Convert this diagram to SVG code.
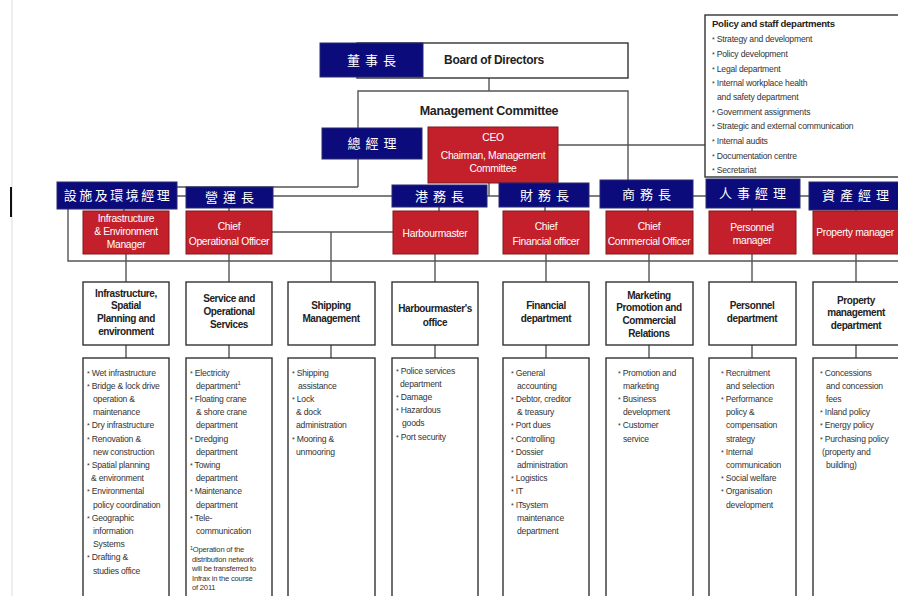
<svg xmlns="http://www.w3.org/2000/svg" width="898" height="596" viewBox="0 0 898 596">
<style>
.blue{fill:#0b0b7c;stroke:#2a2a70;stroke-width:1}
.red{fill:#c3202b;stroke:#7e1a1a;stroke-width:1}
.box{fill:#fff;stroke:#333;stroke-width:1.4}
.ln{stroke:#555;stroke-width:1.4;fill:none}
.cjk{font-family:"Noto Sans CJK TC","Noto Sans CJK SC",sans-serif;font-weight:normal;font-size:13px;fill:#fff;text-anchor:middle;letter-spacing:5px}
.cjk7{font-family:"Noto Sans CJK TC","Noto Sans CJK SC",sans-serif;font-weight:normal;font-size:13px;fill:#fff;text-anchor:middle;letter-spacing:2.5px}
.rt{font-family:"Liberation Sans",Arial,sans-serif;font-size:10.3px;fill:#fff;text-anchor:middle;letter-spacing:-0.3px}
.dt{font-family:"Liberation Sans",Arial,sans-serif;font-size:10px;font-weight:bold;fill:#222;text-anchor:middle;letter-spacing:-0.4px}
.ti{font-family:"Liberation Sans",Arial,sans-serif;font-weight:bold;fill:#222;text-anchor:middle;letter-spacing:-0.3px}
.pt{font-family:"Liberation Sans",Arial,sans-serif;font-weight:bold;font-size:9.6px;fill:#222;letter-spacing:-0.3px}
.li{font-family:"Liberation Sans",Arial,sans-serif;font-size:8.6px;fill:#333;letter-spacing:-0.2px}
.fn{font-family:"Liberation Sans",Arial,sans-serif;font-size:7.6px;fill:#333;letter-spacing:-0.2px}
.a{font-size:7px}
</style>
<line x1="12" y1="0" x2="12" y2="596" stroke="#ddd" stroke-width="1"/>
<line x1="11" y1="187" x2="11" y2="217" stroke="#111" stroke-width="2"/>
<g id="connectors">
<path class="ln" d="M489 78V91M358 187V91H628V180M358 187H177M68 209V261H898M177 196H898M489 183V196M558 145H705"/>
<path class="ln" d="M124 209V211M229 208V211M439 207V211M545 207V211M648 208V211M752 208V211M856 210V211"/>
<path class="ln" d="M126 254V282M229 254V282M435 254V282M546 254V282M649 254V282M752 254V282M856 254V282M272 232H393M331 232V282"/>
<path class="ln" d="M126 345V358M229 345V358M331 345V358M435 345V358M546 345V358M649 345V358M752 345V358M856 345V358"/>
</g>
<g id="board">
<rect class="box" x="357" y="43" width="271" height="35"/>
<rect class="blue" x="320" y="43" width="103" height="34"/>
<text class="cjk" x="374" y="65">董事長</text>
<text class="ti" x="494" y="64" font-size="12">Board of Directors</text>
</g>
<g id="mgmt">
<text class="ti" x="489" y="115" font-size="12.5">Management Committee</text>
</g>
<g id="gm">
<rect class="blue" x="322" y="128" width="100" height="31"/>
<text class="cjk" x="374.5" y="148">總經理</text>
</g>
<g id="ceo">
<rect class="red" x="428" y="127" width="130" height="56"/>
<text class="rt" font-size="10.5"><tspan x="493" y="141">CEO</tspan><tspan x="493" y="159">Chairman, Management</tspan><tspan x="493" y="172">Committee</tspan></text>
</g>
<g id="policy">
<rect class="box" x="705" y="15" width="200" height="162"/>
<text class="pt" x="712" y="27">Policy and staff departments</text>
<text class="li">
<tspan x="712" y="42"><tspan class="a">*</tspan> Strategy and development</tspan>
<tspan x="712" y="57"><tspan class="a">*</tspan> Policy development</tspan>
<tspan x="712" y="72"><tspan class="a">*</tspan> Legal department</tspan>
<tspan x="712" y="86"><tspan class="a">*</tspan> Internal workplace health</tspan>
<tspan x="717" y="100">and safety department</tspan>
<tspan x="712" y="115"><tspan class="a">*</tspan> Government assignments</tspan>
<tspan x="712" y="129"><tspan class="a">*</tspan> Strategic and external communication</tspan>
<tspan x="712" y="144"><tspan class="a">*</tspan> Internal audits</tspan>
<tspan x="712" y="159"><tspan class="a">*</tspan> Documentation centre</tspan>
<tspan x="712" y="173"><tspan class="a">*</tspan> Secretariat</tspan>
</text>
</g>
<g id="col1">
<rect class="blue" x="57" y="182" width="120" height="27"/>
<text class="cjk7" x="118" y="200">設施及環境經理</text>
<rect class="red" x="83" y="211" width="86" height="43"/>
<text class="rt"><tspan x="126" y="222">Infrastructure</tspan><tspan x="126" y="235">&amp; Environment</tspan><tspan x="126" y="248">Manager</tspan></text>
<rect class="box" x="83" y="282" width="86" height="63"/>
<text class="dt"><tspan x="126" y="297">Infrastructure,</tspan><tspan x="126" y="309">Spatial</tspan><tspan x="126" y="322">Planning and</tspan><tspan x="126" y="335">environment</tspan></text>
<rect class="box" x="83" y="358" width="86" height="245"/>
<text class="li">
<tspan x="87" y="375.5"><tspan class="a">*</tspan> Wet infrastructure</tspan>
<tspan x="87" y="388.7"><tspan class="a">*</tspan> Bridge &amp; lock drive</tspan>
<tspan x="93" y="401.9">operation &amp;</tspan>
<tspan x="93" y="415.1">maintenance</tspan>
<tspan x="87" y="428.3"><tspan class="a">*</tspan> Dry infrastructure</tspan>
<tspan x="87" y="441.5"><tspan class="a">*</tspan> Renovation &amp;</tspan>
<tspan x="93" y="454.7">new construction</tspan>
<tspan x="87" y="467.9"><tspan class="a">*</tspan> Spatial planning</tspan>
<tspan x="91" y="481.1">&amp; environment</tspan>
<tspan x="87" y="494.3"><tspan class="a">*</tspan> Environmental</tspan>
<tspan x="93" y="507.5">policy coordination</tspan>
<tspan x="87" y="520.7"><tspan class="a">*</tspan> Geographic</tspan>
<tspan x="93" y="533.9">information</tspan>
<tspan x="93" y="547.1">Systems</tspan>
<tspan x="87" y="560.3"><tspan class="a">*</tspan> Drafting &amp;</tspan>
<tspan x="93" y="573.5">studies office</tspan>
</text>
</g>
<g id="col2">
<rect class="blue" x="186" y="187" width="87" height="21"/>
<text class="cjk" x="232" y="202">營運長</text>
<rect class="red" x="186" y="211" width="86" height="43"/>
<text class="rt"><tspan x="229" y="230">Chief</tspan><tspan x="229" y="245">Operational Officer</tspan></text>
<rect class="box" x="186" y="282" width="86" height="63"/>
<text class="dt"><tspan x="229" y="302">Service and</tspan><tspan x="229" y="315">Operational</tspan><tspan x="229" y="328">Services</tspan></text>
<rect class="box" x="186" y="358" width="86" height="245"/>
<text class="li">
<tspan x="190" y="375.5"><tspan class="a">*</tspan> Electricity</tspan>
<tspan x="196" y="388.7">department<tspan font-size="6" dy="-4">1</tspan></tspan>
<tspan x="190" y="401.9"><tspan class="a">*</tspan> Floating crane</tspan>
<tspan x="196" y="415.1">&amp; shore crane</tspan>
<tspan x="196" y="428.3">department</tspan>
<tspan x="190" y="441.5"><tspan class="a">*</tspan> Dredging</tspan>
<tspan x="196" y="454.7">department</tspan>
<tspan x="190" y="467.9"><tspan class="a">*</tspan> Towing</tspan>
<tspan x="196" y="481.1">department</tspan>
<tspan x="190" y="494.3"><tspan class="a">*</tspan> Maintenance</tspan>
<tspan x="196" y="507.5">department</tspan>
<tspan x="190" y="520.7"><tspan class="a">*</tspan> Tele-</tspan>
<tspan x="196" y="533.9">communication</tspan>
</text>
<text class="fn">
<tspan x="190" y="552"><tspan font-size="5.5" dy="-2.5">1</tspan><tspan dy="2.5">Operation of the</tspan></tspan>
<tspan x="192" y="561.5">distribution network</tspan>
<tspan x="192" y="571">will be transferred to</tspan>
<tspan x="192" y="580.5">Infrax in the course</tspan>
<tspan x="192" y="590">of 2011</tspan>
</text>
</g>
<g id="col3">
<rect class="box" x="288" y="282" width="87" height="63"/>
<text class="dt"><tspan x="331" y="309">Shipping</tspan><tspan x="331" y="322">Management</tspan></text>
<rect class="box" x="288" y="358" width="87" height="245"/>
<text class="li">
<tspan x="292" y="375.5"><tspan class="a">*</tspan> Shipping</tspan>
<tspan x="298" y="388.7">assistance</tspan>
<tspan x="292" y="401.9"><tspan class="a">*</tspan> Lock</tspan>
<tspan x="296" y="415.1">&amp; dock</tspan>
<tspan x="296" y="428.3">administration</tspan>
<tspan x="292" y="441.5"><tspan class="a">*</tspan> Mooring &amp;</tspan>
<tspan x="296" y="454.7">unmooring</tspan>
</text>
</g>
<g id="col4">
<rect class="blue" x="392" y="185" width="95" height="22"/>
<text class="cjk" x="442" y="200.5">港務長</text>
<rect class="red" x="393" y="211" width="85" height="43"/>
<text class="rt"><tspan x="435" y="237">Harbourmaster</tspan></text>
<rect class="box" x="392" y="282" width="86" height="63"/>
<text class="dt"><tspan x="435" y="312">Harbourmaster's</tspan><tspan x="435" y="326">office</tspan></text>
<rect class="box" x="392" y="358" width="86" height="245"/>
<text class="li">
<tspan x="396" y="373.5"><tspan class="a">*</tspan> Police services</tspan>
<tspan x="400" y="386.7">department</tspan>
<tspan x="396" y="399.9"><tspan class="a">*</tspan> Damage</tspan>
<tspan x="396" y="413.1"><tspan class="a">*</tspan> Hazardous</tspan>
<tspan x="402" y="426.3">goods</tspan>
<tspan x="396" y="439.5"><tspan class="a">*</tspan> Port security</tspan>
</text>
</g>
<g id="col5">
<rect class="blue" x="499" y="183" width="90" height="24"/>
<text class="cjk" x="547" y="199.5">財務長</text>
<rect class="red" x="503" y="211" width="86" height="43"/>
<text class="rt"><tspan x="546" y="230">Chief</tspan><tspan x="546" y="245">Financial officer</tspan></text>
<rect class="box" x="503" y="282" width="86" height="63"/>
<text class="dt"><tspan x="546" y="309">Financial</tspan><tspan x="546" y="322">department</tspan></text>
<rect class="box" x="503" y="358" width="86" height="245"/>
<text class="li">
<tspan x="511" y="375.5"><tspan class="a">*</tspan> General</tspan>
<tspan x="517" y="388.7">accounting</tspan>
<tspan x="511" y="401.9"><tspan class="a">*</tspan> Debtor, creditor</tspan>
<tspan x="517" y="415.1">&amp; treasury</tspan>
<tspan x="511" y="428.3"><tspan class="a">*</tspan> Port dues</tspan>
<tspan x="511" y="441.5"><tspan class="a">*</tspan> Controlling</tspan>
<tspan x="511" y="454.7"><tspan class="a">*</tspan> Dossier</tspan>
<tspan x="517" y="467.9">administration</tspan>
<tspan x="511" y="481.1"><tspan class="a">*</tspan> Logistics</tspan>
<tspan x="511" y="494.3"><tspan class="a">*</tspan> IT</tspan>
<tspan x="511" y="507.5"><tspan class="a">*</tspan> ITsystem</tspan>
<tspan x="517" y="520.7">maintenance</tspan>
<tspan x="517" y="533.9">department</tspan>
</text>
</g>
<g id="col6">
<rect class="blue" x="600" y="180" width="93" height="28"/>
<text class="cjk" x="649" y="198.5">商務長</text>
<rect class="red" x="606" y="211" width="87" height="43"/>
<text class="rt"><tspan x="649" y="230">Chief</tspan><tspan x="649" y="245">Commercial Officer</tspan></text>
<rect class="box" x="606" y="282" width="87" height="63"/>
<text class="dt"><tspan x="649" y="299">Marketing</tspan><tspan x="649" y="311">Promotion and</tspan><tspan x="649" y="324">Commercial</tspan><tspan x="649" y="337">Relations</tspan></text>
<rect class="box" x="606" y="358" width="87" height="245"/>
<text class="li">
<tspan x="618" y="375.5"><tspan class="a">*</tspan> Promotion and</tspan>
<tspan x="623" y="388.7">marketing</tspan>
<tspan x="618" y="401.9"><tspan class="a">*</tspan> Business</tspan>
<tspan x="623" y="415.1">development</tspan>
<tspan x="618" y="428.3"><tspan class="a">*</tspan> Customer</tspan>
<tspan x="623" y="441.5">service</tspan>
</text>
</g>
<g id="col7">
<rect class="blue" x="706" y="179" width="94" height="29"/>
<text class="cjk" x="755" y="198">人事經理</text>
<rect class="red" x="709" y="211" width="87" height="43"/>
<text class="rt"><tspan x="752" y="231">Personnel</tspan><tspan x="752" y="244">manager</tspan></text>
<rect class="box" x="709" y="282" width="87" height="63"/>
<text class="dt"><tspan x="752" y="309">Personnel</tspan><tspan x="752" y="322">department</tspan></text>
<rect class="box" x="709" y="358" width="87" height="245"/>
<text class="li">
<tspan x="721" y="375.5"><tspan class="a">*</tspan> Recruitment</tspan>
<tspan x="726" y="388.7">and selection</tspan>
<tspan x="721" y="401.9"><tspan class="a">*</tspan> Performance</tspan>
<tspan x="726" y="415.1">policy &amp;</tspan>
<tspan x="726" y="428.3">compensation</tspan>
<tspan x="726" y="441.5">strategy</tspan>
<tspan x="721" y="454.7"><tspan class="a">*</tspan> Internal</tspan>
<tspan x="726" y="467.9">communication</tspan>
<tspan x="721" y="481.1"><tspan class="a">*</tspan> Social welfare</tspan>
<tspan x="721" y="494.3"><tspan class="a">*</tspan> Organisation</tspan>
<tspan x="726" y="507.5">development</tspan>
</text>
</g>
<g id="col8">
<rect class="blue" x="809" y="182" width="95" height="28"/>
<text class="cjk" x="858" y="200">資產經理</text>
<rect class="red" x="813" y="211" width="90" height="43"/>
<text class="rt"><tspan x="855" y="236">Property manager</tspan></text>
<rect class="box" x="813" y="282" width="90" height="63"/>
<text class="dt"><tspan x="856" y="304">Property</tspan><tspan x="856" y="316">management</tspan><tspan x="856" y="329">department</tspan></text>
<rect class="box" x="813" y="358" width="90" height="245"/>
<text class="li">
<tspan x="820" y="375.5"><tspan class="a">*</tspan> Concessions</tspan>
<tspan x="826" y="388.7">and concession</tspan>
<tspan x="826" y="401.9">fees</tspan>
<tspan x="820" y="415.1"><tspan class="a">*</tspan> Inland policy</tspan>
<tspan x="820" y="428.3"><tspan class="a">*</tspan> Energy policy</tspan>
<tspan x="820" y="441.5"><tspan class="a">*</tspan> Purchasing policy</tspan>
<tspan x="822" y="454.7">(property and</tspan>
<tspan x="826" y="467.9">building)</tspan>
</text>
</g>
</svg>
